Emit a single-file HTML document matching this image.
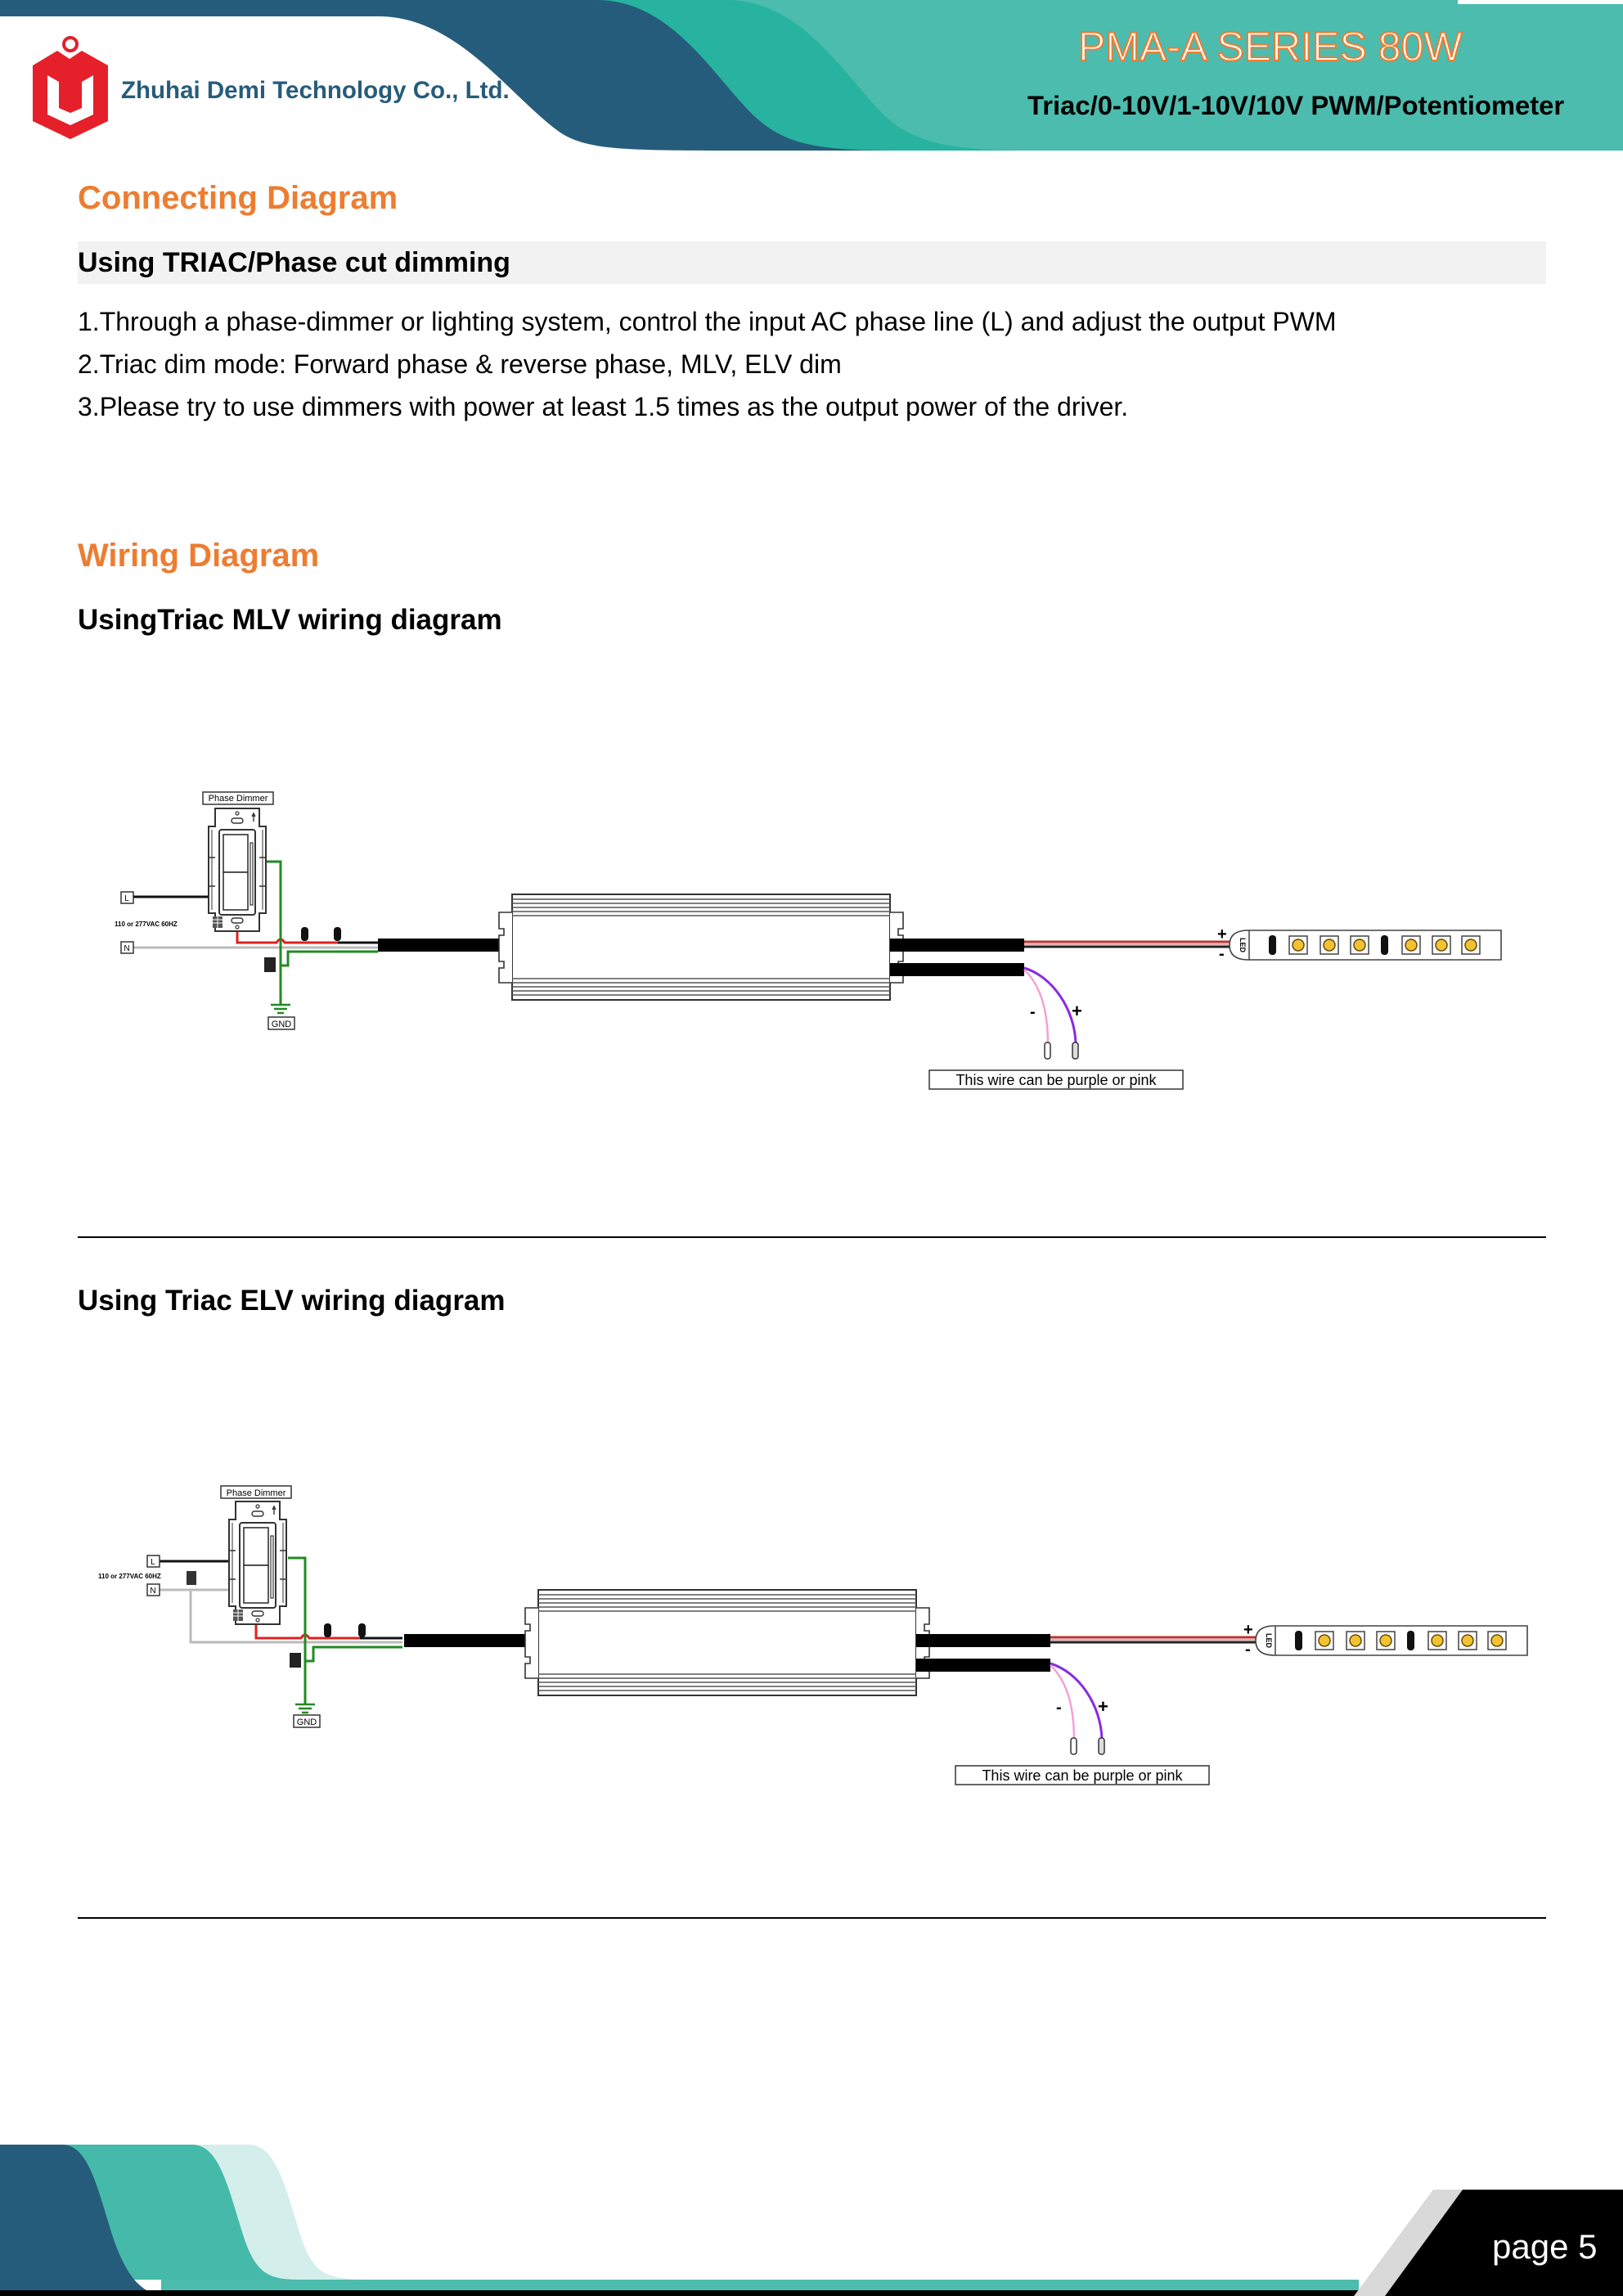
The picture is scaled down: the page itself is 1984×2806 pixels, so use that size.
<!DOCTYPE html>
<html><head><meta charset="utf-8">
<style>
body{margin:0;background:#fff;}
#p{position:relative;width:1984px;height:2806px;overflow:hidden;font-family:"Liberation Sans",sans-serif;}
.t{position:absolute;white-space:nowrap;font-family:"Liberation Sans",sans-serif;}
</style></head><body><div id="p">
<svg width="1984" height="2806" style="position:absolute;left:0;top:0" xmlns="http://www.w3.org/2000/svg">
<defs>
<g id="dim">
 <path d="M8 0 H62 V22 H70 V128 H62 V150 H8 V128 H0 V22 H8 Z" fill="#fff" stroke="#333" stroke-width="2"/>
 <line x1="0" y1="60" x2="8" y2="60" stroke="#333" stroke-width="1.5"/>
 <line x1="0" y1="95" x2="8" y2="95" stroke="#333" stroke-width="1.5"/>
 <line x1="62" y1="60" x2="70" y2="60" stroke="#333" stroke-width="1.5"/>
 <line x1="62" y1="95" x2="70" y2="95" stroke="#333" stroke-width="1.5"/>
 <line x1="4" y1="26" x2="4" y2="124" stroke="#333" stroke-width="1"/>
 <line x1="66" y1="26" x2="66" y2="124" stroke="#333" stroke-width="1"/>
 <rect x="13" y="26" width="44" height="104" rx="3" fill="#fff" stroke="#333" stroke-width="2"/>
 <rect x="18" y="32" width="30" height="46" fill="#fff" stroke="#333" stroke-width="1.6"/>
 <rect x="18" y="78" width="30" height="46" fill="#fff" stroke="#333" stroke-width="1.6"/>
 <rect x="51" y="42" width="3" height="76" fill="#fff" stroke="#333" stroke-width="1.2"/>
 <rect x="28" y="12" width="14" height="6" rx="3" fill="#fff" stroke="#333" stroke-width="1.4"/>
 <circle cx="35" cy="6" r="2" fill="none" stroke="#333" stroke-width="1.2"/>
 <path d="M55 8 V16 M53 10 L55 6 L57 10" stroke="#333" stroke-width="1.4" fill="none"/>
 <rect x="28" y="134" width="14" height="6" rx="3" fill="#fff" stroke="#333" stroke-width="1.4"/>
 <circle cx="35" cy="145" r="2" fill="none" stroke="#333" stroke-width="1.2"/>
 <rect x="5" y="132" width="12" height="14" fill="#555"/>
 <line x1="5" y1="136" x2="17" y2="136" stroke="#fff"/><line x1="5" y1="140" x2="17" y2="140" stroke="#fff"/><line x1="11" y1="132" x2="11" y2="146" stroke="#fff"/>
</g>
<g id="drv">
 <rect x="-164" y="54" width="164" height="16" fill="#000"/>
 <path d="M0 0 H462 V129 H0 Z" fill="#fff" stroke="#333" stroke-width="2"/>
 <g stroke="#555" stroke-width="1.5">
  <line x1="0" y1="6" x2="462" y2="6"/><line x1="0" y1="11" x2="462" y2="11"/><line x1="0" y1="16" x2="462" y2="16"/><line x1="0" y1="21" x2="462" y2="21"/><line x1="0" y1="26" x2="462" y2="26"/>
  <line x1="0" y1="103" x2="462" y2="103"/><line x1="0" y1="108" x2="462" y2="108"/><line x1="0" y1="113" x2="462" y2="113"/><line x1="0" y1="118" x2="462" y2="118"/><line x1="0" y1="123" x2="462" y2="123"/>
 </g>
 <path d="M0 22 H-16 V42 H-10 V50 H-16 V82 H-10 V90 H-16 V108 H0" fill="#fff" stroke="#333" stroke-width="1.6"/>
 <path d="M462 22 H478 V42 H472 V50 H478 V82 H472 V90 H478 V108 H462" fill="#fff" stroke="#333" stroke-width="1.6"/>
 <rect x="462" y="54" width="164" height="16" fill="#000"/>
 <rect x="462" y="84" width="164" height="16" fill="#000"/>
 <line x1="626" y1="58" x2="877" y2="58" stroke="#b33" stroke-width="3"/>
 <line x1="626" y1="61" x2="877" y2="61" stroke="#c66" stroke-width="1"/>
 <line x1="626" y1="64" x2="877" y2="64" stroke="#222" stroke-width="3"/>
 <path d="M626 90 C660 100 688 140 689 183" fill="none" stroke="#8a2be2" stroke-width="3"/>
 <path d="M626 92 C645 110 655 140 655 183" fill="none" stroke="#f3a0d8" stroke-width="2.5"/>
 <rect x="651" y="181" width="7" height="20" rx="3" fill="#fff" stroke="#333" stroke-width="1.5"/>
 <rect x="685" y="181" width="7" height="20" rx="3" fill="#ddd" stroke="#333" stroke-width="1.5"/>
 <text x="633" y="150" font-family="Liberation Sans" font-size="20" font-weight="bold">-</text>
 <text x="684" y="150" font-family="Liberation Sans" font-size="22" font-weight="bold">+</text>
 <text x="862" y="55" font-family="Liberation Sans" font-size="20" font-weight="bold">+</text>
 <text x="864" y="79" font-family="Liberation Sans" font-size="20" font-weight="bold">-</text>
 <path d="M900 44 H1209 V80 H900 Q877 80 877 62 Q877 44 900 44 Z" fill="#fff" stroke="#444" stroke-width="1.6"/>
 <line x1="901" y1="44" x2="901" y2="80" stroke="#444" stroke-width="1.5"/>
 <text x="890" y="62" font-family="Liberation Sans" font-size="9" font-weight="bold" transform="rotate(90 890 62)" text-anchor="middle">LED</text>
 <rect x="925" y="50" width="9" height="24" rx="4" fill="#111"/>
 <rect x="1062" y="50" width="9" height="24" rx="4" fill="#111"/>
 <g fill="#fff" stroke="#444" stroke-width="1.5">
  <rect x="950" y="51" width="22" height="22"/><rect x="988" y="51" width="22" height="22"/><rect x="1025" y="51" width="22" height="22"/>
  <rect x="1088" y="51" width="22" height="22"/><rect x="1125" y="51" width="22" height="22"/><rect x="1161" y="51" width="22" height="22"/>
 </g>
 <g fill="#f2c230" stroke="#6b4a10" stroke-width="1.5">
  <circle cx="961" cy="62" r="7"/><circle cx="999" cy="62" r="7"/><circle cx="1036" cy="62" r="7"/>
  <circle cx="1099" cy="62" r="7"/><circle cx="1136" cy="62" r="7"/><circle cx="1172" cy="62" r="7"/>
 </g>
 <rect x="510" y="215" width="310" height="23" fill="#fff" stroke="#333" stroke-width="1.5"/>
 <text x="665" y="233" font-family="Liberation Sans" font-size="18" text-anchor="middle">This wire can be purple or pink</text>
</g>
</defs>

<!-- header -->
<path d="M0 0 H1984 V184 H0 Z" fill="#4bbcae"/>
<path d="M0 0 H888 C980 0 1030 90 1080 140 C1120 178 1170 184 1268 184 H0 Z" fill="#27b3a0"/>
<path d="M0 0 H729 C820 0 870 90 920 140 C960 178 1000 184 1103 184 H0 Z" fill="#265c7b"/>
<path d="M0 20 H463 C560 20 625 120 685 162 C715 182 760 184 875 184 H0 Z" fill="#fff"/>
<rect x="0" y="184" width="1984" height="10" fill="#fff"/>
<rect x="1782" y="0" width="202" height="5" fill="#fff"/>

<!-- logo -->
<path d="M40 80 L70 62 L85 72 L100 62 L132 80 V148 L86 170 L40 148 Z" fill="#e5202a"/>
<path d="M58 92 V140 L86 153 L114 140 V92 L100 100 V132 L86 138 L72 132 V100 Z" fill="#fff"/>
<circle cx="86" cy="54" r="8" fill="none" stroke="#e5202a" stroke-width="4"/>

<!-- dividers -->
<rect x="95" y="295" width="1795" height="52" fill="#f2f2f2"/>
<line x1="95" y1="1512" x2="1890" y2="1512" stroke="#000" stroke-width="2"/>
<line x1="95" y1="2344" x2="1890" y2="2344" stroke="#000" stroke-width="2"/>

<!-- Diagram 1 left wiring -->
<line x1="162" y1="1096" x2="255" y2="1096" stroke="#111" stroke-width="3"/>
<line x1="162" y1="1158" x2="462" y2="1158" stroke="#bbb" stroke-width="3"/>
<path d="M290 1138 V1152 H338 Q343 1144 348 1152 H413" fill="none" stroke="#e02020" stroke-width="3"/>
<line x1="413" y1="1152" x2="462" y2="1152" stroke="#111" stroke-width="3"/>
<path d="M325 1053 H343 V1228" fill="none" stroke="#228b22" stroke-width="3"/>
<path d="M343 1180 H352 V1163 H462" fill="none" stroke="#228b22" stroke-width="3"/>
<rect x="323" y="1170" width="14" height="18" fill="#222"/>
<path d="M331 1228 H355 M335 1233 H351 M339 1238 H347" stroke="#228b22" stroke-width="2.5"/>
<rect x="368" y="1133" width="9" height="17" rx="4" fill="#111"/>
<rect x="408" y="1133" width="9" height="17" rx="4" fill="#111"/>
<use href="#dim" x="255" y="988"/>
<rect x="148" y="1090" width="15" height="14" fill="#fff" stroke="#333" stroke-width="1.5"/>
<rect x="148" y="1151" width="15" height="14" fill="#fff" stroke="#333" stroke-width="1.5"/>
<rect x="248" y="968" width="86" height="15" fill="#fff" stroke="#333" stroke-width="1.5"/>
<rect x="328" y="1243" width="32" height="15" fill="#fff" stroke="#333" stroke-width="1.5"/>
<use href="#drv" x="626" y="1093"/>
<text x="155" y="1101" font-size="10" text-anchor="middle" font-family="Liberation Sans">L</text>
<text x="155" y="1162" font-size="10" text-anchor="middle" font-family="Liberation Sans">N</text>
<text x="291" y="979" font-size="11" text-anchor="middle" font-family="Liberation Sans">Phase Dimmer</text>
<text x="344" y="1255" font-size="11" text-anchor="middle" font-family="Liberation Sans">GND</text>
<text x="140" y="1132" font-size="8" font-weight="bold" font-family="Liberation Sans">110 or 277VAC 60HZ</text>

<!-- Diagram 2 left wiring -->
<line x1="194" y1="1908" x2="280" y2="1908" stroke="#111" stroke-width="3"/>
<path d="M194 1943 H280 M233 1943 V2007 H492" fill="none" stroke="#bbb" stroke-width="3"/>
<path d="M313 1983 V2002 H368 Q373 1994 378 2002 H440" fill="none" stroke="#e02020" stroke-width="3"/>
<line x1="440" y1="2002" x2="492" y2="2002" stroke="#111" stroke-width="3"/>
<path d="M352 1904 H373 V2083" fill="none" stroke="#228b22" stroke-width="3"/>
<path d="M373 2030 H383 V2013 H492" fill="none" stroke="#228b22" stroke-width="3"/>
<rect x="354" y="2020" width="14" height="18" fill="#222"/>
<rect x="228" y="1920" width="12" height="17" fill="#333"/>
<path d="M361 2083 H385 M365 2088 H381 M369 2093 H377" stroke="#228b22" stroke-width="2.5"/>
<rect x="396" y="1984" width="9" height="17" rx="4" fill="#111"/>
<rect x="438" y="1984" width="9" height="17" rx="4" fill="#111"/>
<use href="#dim" x="280" y="1835"/>
<rect x="180" y="1901" width="15" height="14" fill="#fff" stroke="#333" stroke-width="1.5"/>
<rect x="180" y="1936" width="15" height="14" fill="#fff" stroke="#333" stroke-width="1.5"/>
<rect x="270" y="1816" width="86" height="15" fill="#fff" stroke="#333" stroke-width="1.5"/>
<rect x="359" y="2096" width="32" height="15" fill="#fff" stroke="#333" stroke-width="1.5"/>
<use href="#drv" x="658" y="1943"/>
<text x="187" y="1912" font-size="10" text-anchor="middle" font-family="Liberation Sans">L</text>
<text x="187" y="1947" font-size="10" text-anchor="middle" font-family="Liberation Sans">N</text>
<text x="313" y="1828" font-size="11" text-anchor="middle" font-family="Liberation Sans">Phase Dimmer</text>
<text x="375" y="2108" font-size="11" text-anchor="middle" font-family="Liberation Sans">GND</text>
<text x="120" y="1929" font-size="8" font-weight="bold" font-family="Liberation Sans">110 or 277VAC 60HZ</text>

<!-- footer -->
<path d="M0 2621 H304 C340 2621 350 2680 370 2740 C385 2780 400 2786 456 2786 H0 Z" fill="#d4efeb"/>
<path d="M0 2621 H235 C270 2621 280 2680 300 2740 C315 2780 330 2786 368 2786 H0 Z" fill="#45b9aa"/>
<path d="M0 2621 H76 C110 2621 120 2680 140 2740 C155 2780 170 2800 197 2806 H0 Z" fill="#265c7b"/>
<rect x="197" y="2786" width="1464" height="14" fill="#4bbcae"/>
<rect x="0" y="2799" width="1690" height="7" fill="#000"/>
<path d="M1752 2676 H1788 L1693 2806 H1655 Z" fill="#d9d9d9"/>
<path d="M1788 2676 H1984 V2806 H1693 Z" fill="#000"/>
</svg>

<div class="t" style="left:148px;top:94px;font-size:29.5px;font-weight:bold;color:#265c7b;">Zhuhai Demi Technology Co., Ltd.</div>
<div class="t" style="left:1318px;top:28px;font-size:50px;color:#fff;-webkit-text-stroke:2px #ed7d31;">PMA-A SERIES 80W</div>
<div class="t" style="left:1256px;top:110px;font-size:32.8px;font-weight:bold;color:#000;">Triac/0-10V/1-10V/10V PWM/Potentiometer</div>

<div class="t" style="left:95px;top:220px;font-size:40px;font-weight:bold;color:#ed7d31;">Connecting Diagram</div>
<div class="t" style="left:95px;top:302px;font-size:34px;font-weight:bold;color:#000;">Using TRIAC/Phase cut dimming</div>
<div class="t" style="left:95px;top:375px;font-size:32px;color:#000;">1.Through a phase-dimmer or lighting system, control the input AC phase line (L) and adjust the output PWM</div>
<div class="t" style="left:95px;top:427px;font-size:32px;color:#000;">2.Triac dim mode: Forward phase &amp; reverse phase, MLV, ELV dim</div>
<div class="t" style="left:95px;top:479px;font-size:32px;color:#000;">3.Please try to use dimmers with power at least 1.5 times as the output power of the driver.</div>
<div class="t" style="left:95px;top:657px;font-size:40px;font-weight:bold;color:#ed7d31;">Wiring Diagram</div>
<div class="t" style="left:95px;top:738px;font-size:35px;font-weight:bold;color:#000;">UsingTriac MLV wiring diagram</div>
<div class="t" style="left:95px;top:1570px;font-size:35px;font-weight:bold;color:#000;">Using Triac ELV wiring diagram</div>
<div class="t" style="left:1824px;top:2722px;font-size:42px;color:#fff;">page 5</div>
</div></body></html>
